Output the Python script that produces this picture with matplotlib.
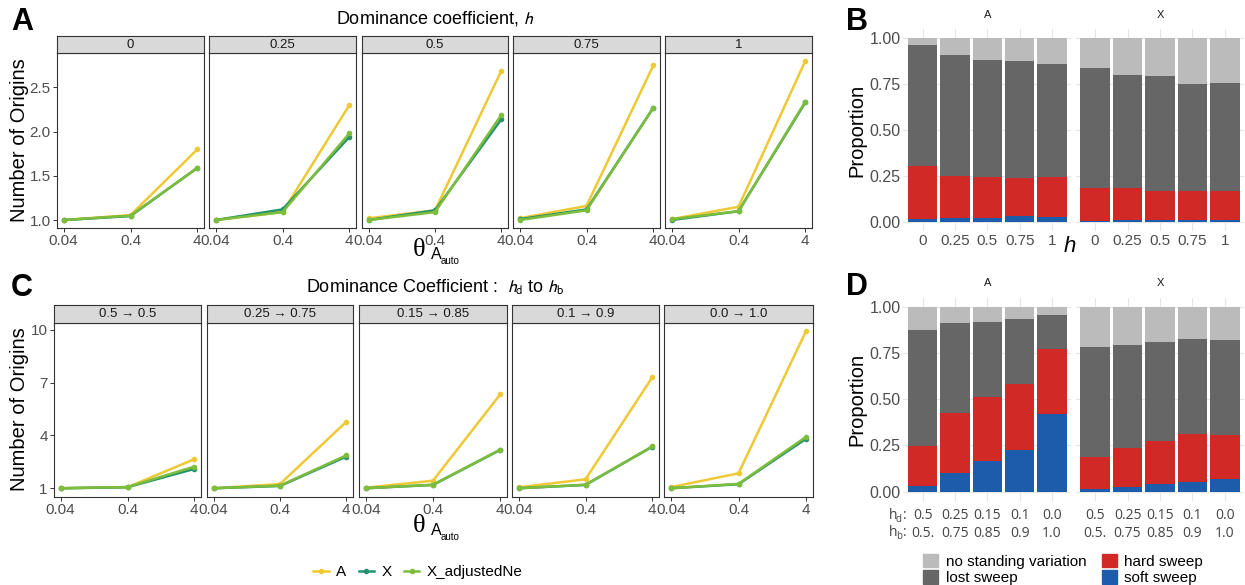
import matplotlib
matplotlib.use('Agg')
import matplotlib.pyplot as plt
import numpy as np
from matplotlib.lines import Line2D
from matplotlib.patches import Patch
from matplotlib.ticker import NullLocator

plt.rcParams['font.family'] = ['Liberation Sans', 'DejaVu Sans']
plt.rcParams['mathtext.fontset'] = 'stixsans'

# ---- data: number of origins (panels A, C) ----
theta = [0.04, 0.4, 4]
theta_labels = ['0.04', '0.4', '4']

h_levels = ['0', '0.25', '0.5', '0.75', '1']
a_A = [[1.00, 1.056, 1.80], [1.00, 1.09, 2.30], [1.02, 1.11, 2.69], [1.02, 1.16, 2.75], [1.01, 1.15, 2.80]]
a_X = [[1.00, 1.045, 1.59], [1.00, 1.12, 1.94], [1.00, 1.11, 2.14], [1.01, 1.12, 2.27], [1.00, 1.10, 2.33]]
a_Xadj = [[1.00, 1.05, 1.59], [1.00, 1.09, 1.98], [1.00, 1.09, 2.19], [1.00, 1.11, 2.27], [1.01, 1.10, 2.34]]

hdhb_levels = ['0.5 \u2192 0.5', '0.25 \u2192 0.75', '0.15 \u2192 0.85', '0.1 \u2192 0.9', '0.0 \u2192 1.0']
c_A = [[1.00, 1.06, 2.65], [1.00, 1.24, 4.78], [1.03, 1.43, 6.34], [1.05, 1.51, 7.31], [1.06, 1.85, 9.96]]
c_X = [[1.00, 1.06, 2.10], [1.00, 1.13, 2.80], [1.00, 1.19, 3.18], [1.00, 1.19, 3.36], [1.00, 1.23, 3.82]]
c_Xadj = [[1.00, 1.07, 2.23], [1.00, 1.15, 2.87], [1.00, 1.20, 3.20], [1.00, 1.20, 3.38], [1.00, 1.25, 3.93]]

# ---- data: sweep proportions (panels B, D) ----
b_A_soft = [0.015, 0.020, 0.020, 0.031, 0.026]
b_A_hard = [0.290, 0.231, 0.222, 0.209, 0.216]
b_A_lost = [0.658, 0.658, 0.638, 0.637, 0.617]
b_A_none = [0.037, 0.091, 0.120, 0.123, 0.141]
b_X_soft = [0.005, 0.012, 0.010, 0.010, 0.010]
b_X_hard = [0.177, 0.170, 0.159, 0.159, 0.159]
b_X_lost = [0.655, 0.616, 0.624, 0.584, 0.588]
b_X_none = [0.163, 0.202, 0.207, 0.247, 0.243]

d_A_soft = [0.031, 0.103, 0.168, 0.225, 0.420]
d_A_hard = [0.218, 0.324, 0.342, 0.355, 0.351]
d_A_lost = [0.625, 0.483, 0.409, 0.352, 0.184]
d_A_none = [0.126, 0.090, 0.081, 0.068, 0.045]
d_X_soft = [0.014, 0.023, 0.041, 0.052, 0.067]
d_X_hard = [0.172, 0.211, 0.235, 0.260, 0.239]
d_X_lost = [0.598, 0.559, 0.531, 0.511, 0.516]
d_X_none = [0.216, 0.207, 0.193, 0.177, 0.178]

hd_labels = ['0.5', '0.25', '0.15', '0.1', '0.0']
hb_labels = ['0.5.', '0.75', '0.85', '0.9', '1.0']

col_A, col_X, col_Xadj = '#EFC935', '#24936E', '#7DBD3C'
col_none, col_lost, col_hard, col_soft = '#BBBBBB', '#666666', '#D12A26', '#1C5CAB'

W, H = 1245, 585
fig = plt.figure(figsize=(W / 100, H / 100), dpi=100)


def px_axes(l, t, r, b):
    return fig.add_axes([l / W, 1 - b / H, (r - l) / W, (b - t) / H])


def ftext(x, y, s, **kw):
    return fig.text(x / W, 1 - y / H, s, **kw)


def line_row(lefts, rights, strip_top, top, bottom, labels, As, Xs, Xadjs, ylim, yticks, ytl):
    for i in range(5):
        ax = px_axes(lefts[i], top, rights[i], bottom)
        ax.set_xscale('log')
        ax.plot(theta, As[i], color=col_A, lw=1.8, marker='o', ms=3)
        ax.plot(theta, Xs[i], color=col_X, lw=1.8, marker='o', ms=3)
        ax.plot(theta, Xadjs[i], color=col_Xadj, lw=1.8, marker='o', ms=3)
        ax.set_xlim(0.04 / 10 ** 0.1, 4 * 10 ** 0.1)
        ax.set_ylim(*ylim)
        ax.set_xticks(theta)
        ax.set_xticklabels(theta_labels)
        ax.xaxis.set_minor_locator(NullLocator())
        ax.set_yticks(yticks)
        if i == 0:
            ax.set_yticklabels(ytl)
        else:
            ax.tick_params(axis='y', left=False, labelleft=False)
        ax.tick_params(labelsize=11, colors='#333333', labelcolor='#4D4D4D', length=3, width=0.7, pad=1.5)
        for s in ax.spines.values():
            s.set_color('#333333')
            s.set_linewidth(0.8)
        st = px_axes(lefts[i], strip_top, rights[i], top)
        st.set_facecolor('#D9D9D9')
        st.set_xticks([])
        st.set_yticks([])
        for s in st.spines.values():
            s.set_color('#333333')
            s.set_linewidth(0.8)
        st.text(0.5, 0.5, labels[i], ha='center', va='center', fontsize=9.5, color='#1A1A1A',
                transform=st.transAxes)


lefts_a = [57, 209, 362, 513, 665]
rights_a = [204, 356, 508, 660, 812]
line_row(lefts_a, rights_a, 36, 53, 228, h_levels, a_A, a_X, a_Xadj,
         (0.91, 2.89), [1.0, 1.5, 2.0, 2.5], ['1.0', '1.5', '2.0', '2.5'])
lefts_c = [54, 207, 359, 512, 664]
rights_c = [201, 353, 507, 659, 813]
line_row(lefts_c, rights_c, 305, 322.7, 496.7, hdhb_levels, c_A, c_X, c_Xadj,
         (0.52, 10.41), [1, 4, 7, 10], ['1', '4', '7', '10'])

ftext(20, 140, 'Number of Origins', rotation=90, ha='center', va='center', fontsize=14.5)
ftext(20, 409, 'Number of Origins', rotation=90, ha='center', va='center', fontsize=14.5)
ftext(435, 18, 'Dominance coefficient, $h$', ha='center', va='center', fontsize=13)
ftext(435, 287, 'Dominance Coefficient :  $h_{\\mathrm{d}}$ to $h_{\\mathrm{b}}$',
      ha='center', va='center', fontsize=13)

# theta_{A_auto} axis titles, built from pieces
for yb in (256, 532):
    ftext(413, yb, '\u03b8', ha='left', va='baseline', fontsize=19, family='Liberation Serif')
    ftext(431, yb + 3, 'A', ha='left', va='baseline', fontsize=11.5)
    ftext(441, yb + 8, 'auto', ha='left', va='baseline', fontsize=7)


# ---- stacked bars ----
def bar_panel(l, r, t, b, soft, hard, lost, none, facet, first):
    ax = px_axes(l, t, r, b)
    x = np.arange(5)
    ax.set_axisbelow(True)
    ax.grid(True, color='#E6E6E6', lw=0.8)
    bottom = np.zeros(5)
    for vals, c in [(soft, col_soft), (hard, col_hard), (lost, col_lost), (none, col_none)]:
        ax.bar(x, vals, bottom=bottom, width=0.9, color=c, lw=0)
        bottom = bottom + np.array(vals)
    ax.set_xlim(-0.6, 4.6)
    ax.set_ylim(-0.05, 1.05)
    ax.set_yticks([0, 0.25, 0.5, 0.75, 1.0])
    if first:
        ax.set_yticklabels(['0.00', '0.25', '0.50', '0.75', '1.00'])
    else:
        ax.set_yticklabels([])
    ax.set_xticks(x)
    ax.tick_params(length=0, labelsize=11.5, labelcolor='#4D4D4D', pad=2)
    for s in ax.spines.values():
        s.set_visible(False)
    ax.text(0.5, 1.0 + 9 / (b - t), facet, transform=ax.transAxes, ha='center', va='bottom', fontsize=8,
            color='#1A1A1A')
    return ax


for l, r, soft, hard, lost, none, facet, first in [
        (903.3, 1071.4, b_A_soft, b_A_hard, b_A_lost, b_A_none, 'A', True),
        (1075.6, 1244.4, b_X_soft, b_X_hard, b_X_lost, b_X_none, 'X', False)]:
    ax = bar_panel(l, r, 29.1, 230.9, soft, hard, lost, none, facet, first)
    ax.set_xticklabels(h_levels, fontsize=11)

for l, r, soft, hard, lost, none, facet, first in [
        (903.3, 1071.4, d_A_soft, d_A_hard, d_A_lost, d_A_none, 'A', True),
        (1075.6, 1244.4, d_X_soft, d_X_hard, d_X_lost, d_X_none, 'X', False)]:
    ax = bar_panel(l, r, 297.5, 500.9, soft, hard, lost, none, facet, first)
    ax.set_xticklabels([f'{a}\n{bb}' for a, bb in zip(hd_labels, hb_labels)], fontsize=10,
                       family='Open Sans', linespacing=1.25)
    ax.tick_params(axis='x', labelcolor='#444444', pad=5)

# h_d / h_b prefixes of the first D tick label
for yb, sub in ((519, 'd'), (536, 'b')):
    ftext(889, yb, 'h', ha='left', va='baseline', fontsize=10, family='Open Sans', color='#444444')
    ftext(896, yb + 3, sub, ha='left', va='baseline', fontsize=7, family='Open Sans', color='#444444')
    ftext(903, yb, ':', ha='left', va='baseline', fontsize=10, family='Open Sans', color='#444444')

ftext(857, 130, 'Proportion', rotation=90, ha='center', va='center', fontsize=14.5)
ftext(857, 399, 'Proportion', rotation=90, ha='center', va='center', fontsize=14.5)
ftext(1070, 246, 'h', ha='center', va='center', fontsize=16, fontstyle='italic')

# panel letters
for txt, x, y in [('A', 22, 22), ('B', 857, 22), ('C', 22, 288), ('D', 857, 287)]:
    ftext(x, y, txt, ha='center', va='center', fontsize=22, fontweight='bold')

# legends
line_handles = [Line2D([], [], color=c, lw=1.8, marker='o', ms=3) for c in (col_A, col_X, col_Xadj)]
fig.legend(line_handles, ['A', 'X', 'X_adjustedNe'], ncol=3, loc='center',
           bbox_to_anchor=(418 / W, 1 - 572 / H), frameon=False, fontsize=11,
           handlelength=1.0, handletextpad=0.5, columnspacing=0.8)

bar_handles = [Patch(color=col_none), Patch(color=col_lost), Patch(color=col_hard), Patch(color=col_soft)]
fig.legend(bar_handles, ['no standing variation', 'lost sweep', 'hard sweep', 'soft sweep'], ncol=2,
           loc='upper left', bbox_to_anchor=(912 / W, 1 - 543 / H), frameon=False, fontsize=11,
           handlelength=1.0, handleheight=1.0, labelspacing=0.1, columnspacing=1.0, handletextpad=0.5,
           borderpad=0.2)

fig.savefig('out.png', dpi=100)
